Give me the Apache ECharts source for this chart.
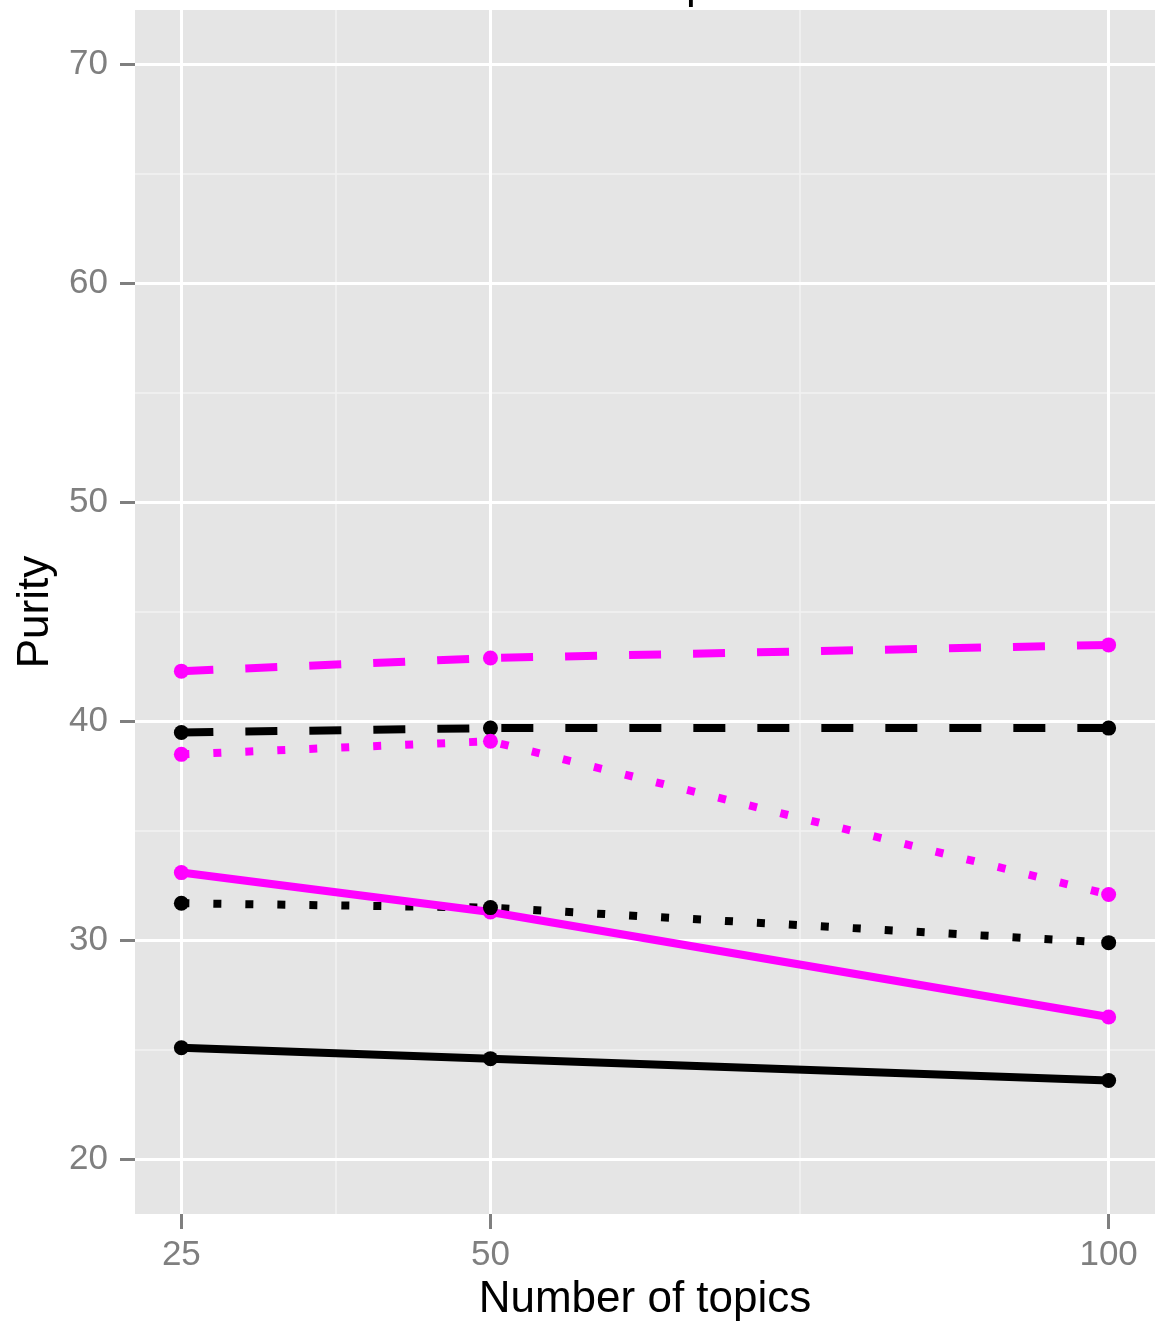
<!DOCTYPE html>
<html>
<head>
<meta charset="utf-8">
<script src="https://cdn.jsdelivr.net/npm/echarts@6/dist/echarts.min.js"></script>
<style>
html,body{margin:0;padding:0;background:#fff;}
#chart{width:1172px;height:1327px;}
</style>
</head>
<body>
<div id="chart"></div>
<script>
// ---- data ----
const topics = [25, 50, 100];
const xTicks = [25, 50, 100];
const xMinor = [37.5, 75];
const yTicks = [20, 30, 40, 50, 60, 70];
const yMinor = [25, 35, 45, 55, 65];

const magentaDashed = [42.3, 42.9, 43.5];
const blackDashed   = [39.5, 39.7, 39.7];
const magentaDotted = [38.5, 39.1, 32.1];
const magentaSolid  = [33.1, 31.3, 26.5];
const blackDotted   = [31.7, 31.5, 29.9];
const blackSolid    = [25.1, 24.6, 23.6];

const MAG = '#FF00FF', BLK = '#000000';
const seriesDefs = [
  {name:'blackSolid', data:blackSolid, color:BLK, dash:'solid'},
  {name:'blackDotted', data:blackDotted, color:BLK, dash:[8,24]},
  {name:'magentaSolid', data:magentaSolid, color:MAG, dash:'solid'},
  {name:'blackDashed', data:blackDashed, color:BLK, dash:[32,32]},
  {name:'magentaDotted', data:magentaDotted, color:MAG, dash:[8,24]},
  {name:'magentaDashed', data:magentaDashed, color:MAG, dash:[32,32]}
];
const pointOrder = ['blackSolid','magentaSolid','blackDotted','blackDashed','magentaDotted','magentaDashed'];

const pairs = d => topics.map((t,i)=>[t, d[i]]);

const series = [];
seriesDefs.forEach(s => {
  series.push({
    type:'line', data:pairs(s.data), showSymbol:false, symbol:'none',
    lineStyle:{color:s.color, width:8, type:s.dash, cap:'butt', opacity:1},
    itemStyle:{color:s.color}, animation:false, z:2
  });
});
pointOrder.forEach(n => {
  const s = seriesDefs.find(d=>d.name===n);
  series.push({
    type:'scatter', data:pairs(s.data), symbol:'circle', symbolSize:15,
    itemStyle:{color:s.color, opacity:1}, animation:false, z:3
  });
});

const grey = '#7F7F7F';
const FONT = '"Liberation Sans", Arial, sans-serif';
const chart = echarts.init(document.getElementById('chart'), null, {renderer:'canvas'});
chart.setOption({
  backgroundColor:'#FFFFFF',
  animation:false,
  grid:{left:135, right:17, top:10, bottom:108, show:true, backgroundColor:'#E5E5E5', borderWidth:0},
  graphic:[{
    type:'text', x:686, y:-36,
    style:{text:'p', font:'44px ' + FONT, fill:'#000'}
  }],
  xAxis:[
    {type:'value', min:21.25, max:103.75, gridIndex:0, z:1,
     axisLine:{show:false},
     axisTick:{show:true, customValues:xTicks, length:15, lineStyle:{color:grey, width:3}},
     axisLabel:{show:true, customValues:xTicks, color:grey, fontSize:35, fontFamily:FONT, margin:24},
     splitLine:{show:true, lineStyle:{color:'#FFFFFF', width:3}},
     name:'Number of topics', nameLocation:'middle', nameGap:55,
     nameTextStyle:{color:'#000', fontSize:44, fontFamily:FONT}
    },
    {type:'value', min:21.25, max:103.75, gridIndex:0, z:0,
     axisLine:{show:false}, axisTick:{show:false, customValues:xMinor}, axisLabel:{show:false, customValues:xMinor},
     splitLine:{show:true, lineStyle:{color:'#F2F2F2', width:1.5}}
    }
  ],
  yAxis:[
    {type:'value', min:17.5, max:72.5, gridIndex:0, z:1,
     axisLine:{show:false},
     axisTick:{show:true, customValues:yTicks, length:15, lineStyle:{color:grey, width:3}},
     axisLabel:{show:true, customValues:yTicks, color:grey, fontSize:35, fontFamily:FONT, margin:27},
     splitLine:{show:true, lineStyle:{color:'#FFFFFF', width:3}},
     name:'Purity', nameLocation:'middle', nameGap:67, nameRotate:90,
     nameTextStyle:{color:'#000', fontSize:44, fontFamily:FONT}
    },
    {type:'value', min:17.5, max:72.5, gridIndex:0, z:0,
     axisLine:{show:false}, axisTick:{show:false, customValues:yMinor}, axisLabel:{show:false, customValues:yMinor},
     splitLine:{show:true, lineStyle:{color:'#F2F2F2', width:1.5}}
    }
  ],
  series: series
});
</script>
</body>
</html>
